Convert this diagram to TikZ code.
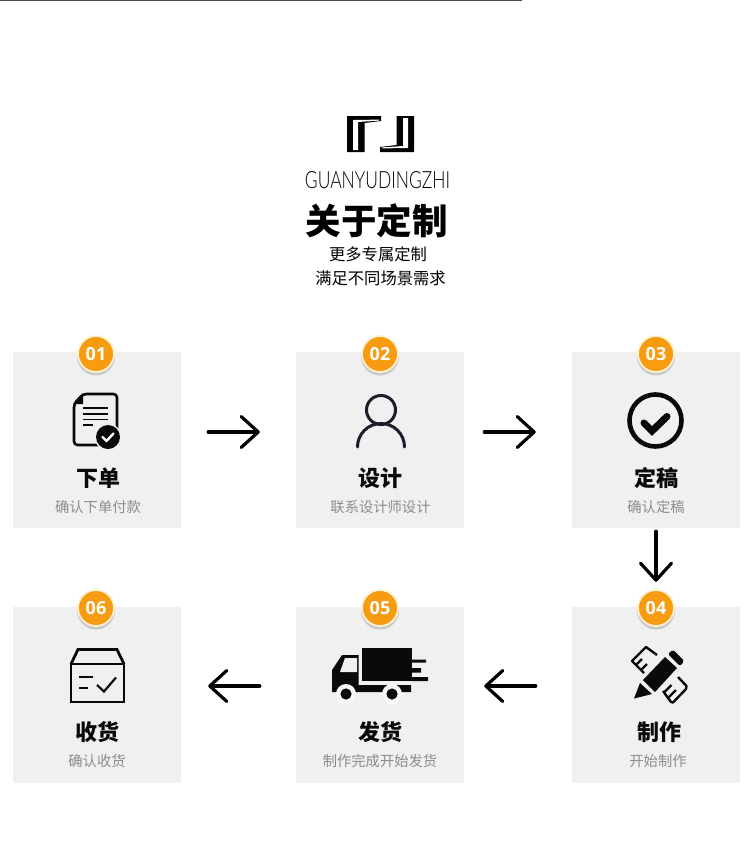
\documentclass[tikz,border=0pt]{standalone}
\usepackage{fontspec}
\usepackage{graphicx}
\usetikzlibrary{arrows.meta}
\newfontfamily\cjk{Noto Sans CJK SC}
\newfontfamily\badgefont{Open Sans}
\newfontfamily\brandfont[UprightFont=* Light]{Lato}
\definecolor{cardgray}{HTML}{F0F0F0}
\definecolor{badgeorange}{HTML}{F79C10}
\definecolor{badgering}{HTML}{FFF2D2}
\definecolor{subgray}{HTML}{8C8C8C}
\definecolor{iconink}{HTML}{0A0A0A}
\tikzset{
  card/.style={rectangle,fill=cardgray,minimum width=168pt,minimum height=176pt,inner sep=0pt},
  badge/.style={circle,fill=badgeorange,draw=badgering,line width=1.8pt,minimum size=36pt,inner sep=0pt,text=white,font=\badgefont\bfseries\fontsize{18}{18}\selectfont},
  badgeshadow/.style={circle,fill=black,opacity=.16,minimum size=38pt,inner sep=0pt},
  cardtitle/.style={inner sep=0pt,text=iconink,font=\cjk\bfseries\fontsize{22}{22}\selectfont},
  cardsub/.style={inner sep=0pt,text=subgray,font=\cjk\fontsize{14.3}{14.3}\selectfont},
  flow/.style={line width=3.2pt,line cap=round,-{Straight Barb[length=17pt,width=31pt,round]}},
  iconline/.style={line width=2.6pt,draw=iconink},
}
\begin{document}
\begin{tikzpicture}[x=1pt,y=-1pt]
\useasboundingbox (0,0) rectangle (750,847);
\fill[white] (0,0) rectangle (750,847);
\fill[black!70] (0,0) rectangle (522,1.2);

% logo
\fill[black] (347,116) -- (381,116) -- (381,121) -- (364.5,123) -- (364.5,152) -- (347,152) -- cycle;
\fill[white] (353,120) -- (379,119.6) -- (379,120.6) -- (358,122) -- (358,150) -- (353,150) -- cycle;
\fill[black] (414,152) -- (380,152) -- (380,147) -- (396.5,145) -- (396.5,116) -- (414,116) -- cycle;
\fill[white] (408,148) -- (382,148.4) -- (382,147.4) -- (403,146) -- (403,118) -- (408,118) -- cycle;

\node[inner sep=0pt] (brand) at (377.5,180) {\resizebox{145pt}{17pt}{\brandfont GUANYUDINGZHI}};
\node[inner sep=0pt,font=\cjk\bfseries\fontsize{35.5}{35.5}\selectfont] (heading) at (376.5,221) {关于定制};
\node[inner sep=0pt,font=\cjk\fontsize{16.3}{16.3}\selectfont] (line1) at (378,254) {更多专属定制};
\node[inner sep=0pt,font=\cjk\fontsize{16.3}{16.3}\selectfont] (line2) at (380.5,278) {满足不同场景需求};

% cards
\node[card] (c1) at (97,440) {};
\node[card] (c2) at (380,440) {};
\node[card] (c3) at (656,440) {};
\node[card] (c4) at (656,695) {};
\node[card] (c5) at (380,695) {};
\node[card] (c6) at (97,695) {};

% badges
\foreach \n/\x/\y/\t in {b1/96/354/01,b2/380/354/02,b3/656/354/03,b4/656/608/04,b5/380/608/05,b6/96/608/06}{
  \node[badgeshadow] at (\x,\y+2.5) {};
  \node[badge] (\n) at (\x,\y) {\t};
}

% titles
\node[cardtitle] (t1) at (98,478) {下单};
\node[cardsub] (s1) at (98,507) {确认下单付款};
\node[cardtitle] (t2) at (380,478) {设计};
\node[cardsub] (s2) at (380.5,507) {联系设计师设计};
\node[cardtitle] (t3) at (656,478) {定稿};
\node[cardsub] (s3) at (656,507) {确认定稿};
\node[cardtitle] (t4) at (659,732) {制作};
\node[cardsub] (s4) at (658,761) {开始制作};
\node[cardtitle] (t5) at (380,732) {发货};
\node[cardsub] (s5) at (380,761) {制作完成开始发货};
\node[cardtitle] (t6) at (97,732) {收货};
\node[cardsub] (s6) at (97,761) {确认收货};

% connectors
\draw[flow,shorten <=27pt,shorten >=36pt] ([yshift=8pt]c1.east) -- ([yshift=8pt]c2.west);
\draw[flow,shorten <=20pt,shorten >=36pt] ([yshift=8pt]c2.east) -- ([yshift=8pt]c3.west);
\draw[flow,shorten <=3pt,shorten >=25pt] (c3.south) -- (c4.north);
\draw[flow,shorten <=36pt,shorten >=20pt] ([yshift=9pt]c4.west) -- ([yshift=9pt]c5.east);
\draw[flow,shorten <=36pt,shorten >=27pt] ([yshift=9pt]c5.west) -- ([yshift=9pt]c6.east);

% icon 1: document
\draw[iconline,line join=round,rounded corners=3.5pt] (83,394) -- (117,394) -- (117,445) -- (74,445) -- (74,404) -- cycle;
\fill[iconink] (83,393) -- (83,404) -- (73,404) -- cycle;
\draw[iconink,line width=1.6pt] (83,408) -- (108,408) (83,414) -- (108,414) (83,419.5) -- (108,419.5) (83,425) -- (93,425);
\fill[cardgray] (108,437) circle (13.5);
\fill[iconink] (108,437) circle (12);
\draw[white,line width=2.4pt,line cap=round,line join=round] (102.5,437) -- (106.5,441) -- (113.5,433.5);

% icon 2: person
\definecolor{personink}{HTML}{1C1C2A}
\draw[personink,line width=3pt] (381,410) circle (14.5);
\draw[personink,line width=3pt,line cap=round] (357.5,447) arc[start angle=180,end angle=0,x radius=23.5,y radius=-23.5];

% icon 3: check circle
\draw[iconink,line width=4.6pt] (655.5,420.5) circle (26);
\draw[iconink,line width=7pt,line cap=round,line join=miter] (644,423) -- (652,431) -- (667,416.5);

% icon 4: pencil and rulers
\draw[iconink,line width=2.4pt,line join=round] (657,655) -- (646,647) -- (632,661) -- (644,673);
\draw[iconink,line width=2.2pt] (636,665) -- (642,659) (641,670) -- (647,664);
\draw[iconink,line width=2.4pt,line join=round] (678,677) -- (686.5,686) -- (686,689) -- (673,702.5) -- (671,702) -- (663,691);
\draw[iconink,line width=2.2pt] (669,697) -- (676,690) (664.5,692) -- (671.5,685);
\fill[cardgray] (640,682) -- (667,655) -- (679,667) -- (652,695) -- cycle;
\fill[iconink] (643,680) -- (665,657) -- (677,668) -- (655,692) -- cycle;
\fill[iconink] (634,698.5) -- (640,683) -- (652,694) -- cycle;
\fill[iconink,rounded corners=2pt] (668,654) -- (673,649.5) -- (684.5,661) -- (680,666) -- cycle;

% icon 5: truck
\fill[iconink] (362,647.5) rectangle (412,681);
\fill[iconink] (412,659.5) rectangle (426,662.5) (412,668) rectangle (421,672.5) (412,677) rectangle (428,681);
\fill[iconink] (332,670) -- (342,655) -- (358.5,655) -- (358.5,685) -- (411,685) -- (411,692) -- (332,692) -- cycle;
\fill[cardgray] (340,672) -- (345,658) -- (357,658) -- (357,672) -- cycle;
\foreach \wx in {346,392}{
  \fill[cardgray!40!white] (\wx,694) circle (10);
  \fill[iconink] (\wx,694) circle (5.6);
}

% icon 6: parcel
\draw[iconline,line join=miter,line width=2.8pt] (71,664) -- (78,649.5) -- (117,649.5) -- (124,664);
\draw[iconline,line width=2.8pt] (71,664) rectangle (124,702);
\draw[iconink,line width=2.2pt] (79,677) -- (93,677) (79,688) -- (88,688);
\draw[iconink,line width=2.2pt] (97,685) -- (104,691.5) -- (116,677.5);
\end{tikzpicture}
\end{document}
